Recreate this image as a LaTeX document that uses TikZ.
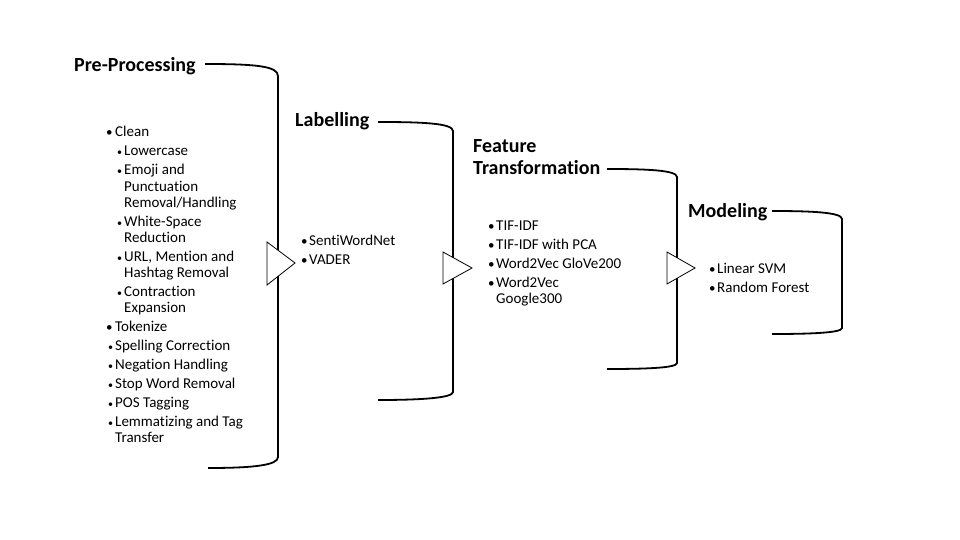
\documentclass[tikz,border=0pt]{standalone}
\usepackage{fontspec}
\setmainfont[Ligatures=NoCommon]{Carlito}
\begin{document}
\begin{tikzpicture}[x=1pt,y=-1pt,
  ttl/.style={font=\bfseries\fontsize{20}{22}\selectfont, anchor=base west, inner sep=0pt, align=left},
  txt/.style={font=\fontsize{15}{16}\selectfont, anchor=base west, inner sep=0pt},
  bul/.style={font=\fontsize{13}{16}\selectfont, anchor=base west, inner sep=0pt},
  sbul/.style={font=\fontsize{10}{16}\selectfont, anchor=base west, inner sep=0pt},
  brk/.style={draw=black, line width=1.8pt},
  tri/.style={draw=black, fill=white, line width=0.8pt, line join=miter}]
\useasboundingbox (0,0) rectangle (960,540);
\fill[white] (0,0) rectangle (960,540);

% ---------- brackets ----------
\draw[brk] (205,64) .. controls (255,64) and (278,66) .. (278,76) -- (278,457) .. controls (278,465) and (255,468) .. (208,468);
\draw[brk] (378,122) .. controls (420,122) and (453,123) .. (453,131) -- (453,392) .. controls (453,398) and (420,400) .. (378,400);
\draw[brk] (607,169) .. controls (645,169) and (677,170) .. (677,177) -- (677,363) .. controls (677,368) and (645,369) .. (607,369);
\draw[brk] (772,211) .. controls (808,211) and (842,212) .. (842,219) -- (842,328) .. controls (842,333) and (808,334) .. (772,334);

% ---------- triangles ----------
\draw[tri] (267,242) -- (295,263) -- (267,285) -- cycle;
\draw[tri] (443,252) -- (472,268) -- (443,284) -- cycle;
\draw[tri] (667,252) -- (695,268) -- (667,284) -- cycle;

% ---------- titles ----------
\node[ttl] (t1) at (74,72) {Pre-Processing};
\node[ttl] (t2) at (295,127) {Labelling};
\node[ttl] (t3a) at (473,153) {Feature};
\node[ttl] (t3b) at (473,175) {Transformation};
\node[ttl] (t4) at (688,217) {Modeling};

% ---------- pre-processing list ----------
\node[bul] (b1) at (106,137) {•};  \node[txt] (l1) at (115,137) {Clean};
\node[sbul] (b2) at (117,156) {•}; \node[txt] (l2) at (124,156) {Lowercase};
\node[sbul] (b3) at (117,175) {•}; \node[txt] (l3a) at (124,175) {Emoji and};
\node[txt] (l3b) at (124,191) {Punctuation};
\node[txt] (l3c) at (124,207) {Removal/Handling};
\node[sbul] (b4) at (117,226) {•}; \node[txt] (l4a) at (124,226) {White-Space};
\node[txt] (l4b) at (124,242) {Reduction};
\node[sbul] (b5) at (117,261) {•}; \node[txt] (l5a) at (124,261) {URL, Mention and};
\node[txt] (l5b) at (124,277) {Hashtag Removal};
\node[sbul] (b6) at (117,296) {•}; \node[txt] (l6a) at (124,296) {Contraction};
\node[txt] (l6b) at (124,312) {Expansion};
\node[bul] (b7) at (106,331) {•};  \node[txt] (l7) at (115,331) {Tokenize};
\node[sbul] (b8) at (108,350) {•}; \node[txt] (l8) at (115,350) {Spelling Correction};
\node[sbul] (b9) at (108,369) {•}; \node[txt] (l9) at (115,369) {Negation Handling};
\node[sbul] (b10) at (108,388) {•}; \node[txt] (l10) at (115,388) {Stop Word Removal};
\node[sbul] (b11) at (108,407) {•}; \node[txt] (l11) at (115,407) {POS Tagging};
\node[sbul] (b12) at (108,426) {•}; \node[txt] (l12a) at (115,426) {Lemmatizing and Tag};
\node[txt] (l12b) at (115,442) {Transfer};

% ---------- labelling list ----------
\node[bul] (c1) at (301,245) {•}; \node[txt] (m1) at (309,245) {SentiWordNet};
\node[bul] (c2) at (301,264) {•}; \node[txt] (m2) at (309,264) {VADER};

% ---------- feature list ----------
\node[bul] (d1) at (488,230) {•}; \node[txt] (f1) at (496,230) {TIF-IDF};
\node[bul] (d2) at (488,249) {•}; \node[txt] (f2) at (496,249) {TIF-IDF with PCA};
\node[bul] (d3) at (488,268) {•}; \node[txt] (f3) at (496,268) {Word2Vec GloVe200};
\node[bul] (d4) at (488,287) {•}; \node[txt] (f4a) at (496,287) {Word2Vec};
\node[txt] (f4b) at (496,303) {Google300};

% ---------- modeling list ----------
\node[bul] (e1) at (709,273) {•}; \node[txt] (g1) at (717,273) {Linear SVM};
\node[bul] (e2) at (709,292) {•}; \node[txt] (g2) at (717,292) {Random Forest};
\end{tikzpicture}
\end{document}
